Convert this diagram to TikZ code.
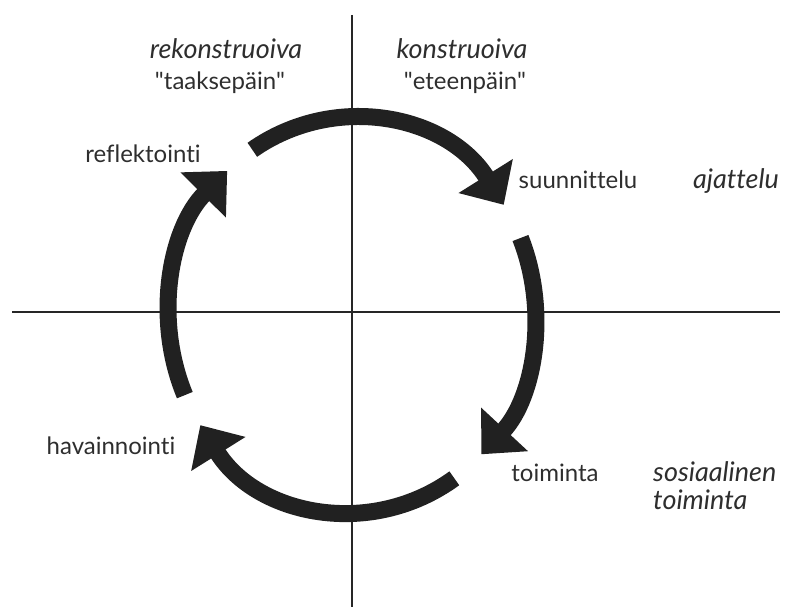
\documentclass[tikz,border=0pt]{standalone}
\usepackage{fontspec}
\setmainfont{Lato}[Ligatures=NoCommon]
\usetikzlibrary{arrows.meta}
\begin{document}
\begin{tikzpicture}[x=1pt,y=1pt,
  axis/.style={line width=1.4pt, draw=black!85},
  cyc/.style={line width=17pt, draw=black!87, -{Triangle[width=62pt,length=34pt]}},
  lbl/.style={font=\fontsize{24}{28}\selectfont, text=black!82, inner sep=0pt, anchor=base},
  ilbl/.style={lbl, font=\fontsize{27}{31}\selectfont\itshape}]
\useasboundingbox (0,0) rectangle (789,607);
\coordinate (c) at (352,292);
\coordinate (axT) at (352,592);
\coordinate (axB) at (352,0);
\coordinate (axL) at (12,295);
\coordinate (axR) at (780,295);
\draw[axis] (axT) -- (axB);
\draw[axis] (axL) -- (axR);
% cycle arcs
\coordinate (s1) at ([shift={(123:183pt and 197pt)}]c);
\coordinate (s2) at ([shift={(23:183pt and 197pt)}]c);
\coordinate (s3) at ([shift={(-56:183pt and 197pt)}]c);
\coordinate (s4) at ([shift={(204:183pt and 197pt)}]c);
\draw[cyc] (s1) arc[start angle=123, end angle=34, x radius=183pt, y radius=197pt];
\draw[cyc] (s2) arc[start angle=23, end angle=-45, x radius=183pt, y radius=197pt];
\draw[cyc] (s3) arc[start angle=-56, end angle=-146, x radius=183pt, y radius=197pt];
\draw[cyc] (s4) arc[start angle=204, end angle=133, x radius=183pt, y radius=197pt];
% labels
\node[ilbl] (rek) at (226,548) {rekonstruoiva};
\node[lbl] (taak) at (220,517) {\textquotedbl taaksepäin\textquotedbl};
\node[ilbl] (kon) at (462,548) {konstruoiva};
\node[lbl] (etee) at (465,517) {\textquotedbl eteenpäin\textquotedbl};
\node[lbl] (refl) at (143,444) {reflektointi};
\node[lbl] (suun) at (578,418) {suunnittelu};
\node[ilbl] (ajat) at (736,418) {ajattelu};
\node[lbl] (toim) at (555,125) {toiminta};
\node[ilbl, anchor=base west] (sos) at (653,125) {sosiaalinen};
\node[ilbl, anchor=base west] (stoim) at (653,97) {toiminta};
\node[lbl] (hav) at (111,152) {havainnointi};
\end{tikzpicture}
\end{document}
